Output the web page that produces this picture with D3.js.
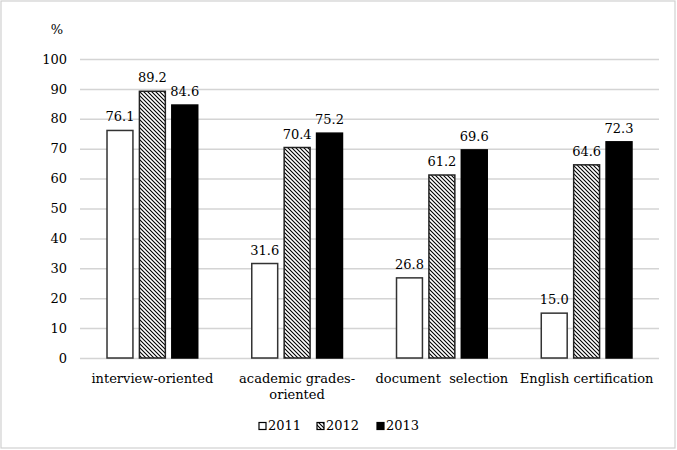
<!DOCTYPE html>
<html><head><meta charset="utf-8">
<script src="https://cdn.jsdelivr.net/npm/d3@7"></script>
<style>body{margin:0;background:#fff}svg{display:block}text{font-family:"DejaVu Serif",serif;fill:#000}</style>
</head><body><svg id="c" width="677" height="450"></svg>
<script>
const categories = [["interview-oriented"], ["academic grades-", "oriented"], ["document  selection"], ["English certification"]];
const series = ["2011", "2012", "2013"];
const values2011 = [76.1, 31.6, 26.8, 15.0];
const values2012 = [89.2, 70.4, 61.2, 64.6];
const values2013 = [84.6, 75.2, 69.6, 72.3];
const yTicks = [0, 10, 20, 30, 40, 50, 60, 70, 80, 90, 100];
const valueSets = [values2011, values2012, values2013];

const svg = d3.select("#c");
const W = 677, H = 450;
const m = {left: 80, right: 18, top: 59, bottom: 92};
const defs = svg.append("defs");
const pat = defs.append("pattern").attr("id", "hatch").attr("patternUnits", "userSpaceOnUse")
  .attr("width", 4).attr("height", 4);
pat.append("rect").attr("width", 4).attr("height", 4).attr("fill", "#fff");
pat.append("path").attr("d", "M-1,-1 L5,5 M-1,3 L1,5 M3,-1 L5,1").attr("stroke", "#000").attr("stroke-width", 1.1);

svg.append("rect").attr("x", 1).attr("y", 1).attr("width", W - 3).attr("height", H - 3)
  .attr("fill", "#fff").attr("stroke", "#d0d0d0").attr("stroke-width", 1.2);

const x0 = d3.scaleBand().domain(d3.range(categories.length)).range([m.left, W - m.right]);
const x1 = d3.scaleBand().domain(series).range([-48.6, 48.6]).paddingInner(0.2).paddingOuter(0.1);
const y = d3.scaleLinear().domain([0, 100]).range([H - m.bottom, m.top]);

const yAxis = d3.axisLeft(y).tickValues(yTicks).tickSize(-(W - m.right - m.left)).tickPadding(13);
const ga = svg.append("g").attr("transform", `translate(${m.left},0)`).call(yAxis);
ga.select(".domain").remove();
ga.selectAll(".tick line").attr("stroke", "#d4d4d4").attr("stroke-width", 1.5);
ga.selectAll(".tick text").attr("font-size", 13).attr("font-family", "DejaVu Serif");

svg.append("text").attr("x", 57).attr("y", 34).attr("text-anchor", "middle").attr("font-size", 13).text("%");

const fills = ["#fff", "url(#hatch)", "#000"];
const strokes = ["#333", "#222", "#000"];
series.forEach((s, si) => {
  const g = svg.append("g");
  g.selectAll("rect").data(valueSets[si]).join("rect")
    .attr("x", (d, i) => x0(i) + x0.bandwidth() / 2 + x1(s))
    .attr("y", d => y(d))
    .attr("width", x1.bandwidth())
    .attr("height", d => y(0) - y(d))
    .attr("fill", fills[si]).attr("stroke", strokes[si]).attr("stroke-width", 1.5);
  g.selectAll("text").data(valueSets[si]).join("text")
    .attr("x", (d, i) => x0(i) + x0.bandwidth() / 2 + x1(s) + x1.bandwidth() / 2)
    .attr("y", d => y(d) - 9)
    .attr("text-anchor", "middle").attr("font-size", 13)
    .text(d => d.toFixed(1));
});

const cl = svg.append("g");
categories.forEach((lines, i) => {
  const t = cl.append("text").attr("x", x0(i) + x0.bandwidth() / 2).attr("y", 383)
    .attr("text-anchor", "middle").attr("font-size", 13).style("white-space", "pre");
  lines.forEach((ln, k) => t.append("tspan").attr("x", x0(i) + x0.bandwidth() / 2).attr("dy", k === 0 ? 0 : 16).text(ln));
});

const legX = [259, 317, 377];
const lg = svg.append("g");
series.forEach((s, si) => {
  lg.append("rect").attr("x", legX[si]).attr("y", 422.5).attr("width", 7).attr("height", 7)
    .attr("fill", fills[si]).attr("stroke", "#000").attr("stroke-width", 1.2);
  lg.append("text").attr("x", legX[si] + 9).attr("y", 430).attr("font-size", 13).text(s);
});
</script></body></html>
